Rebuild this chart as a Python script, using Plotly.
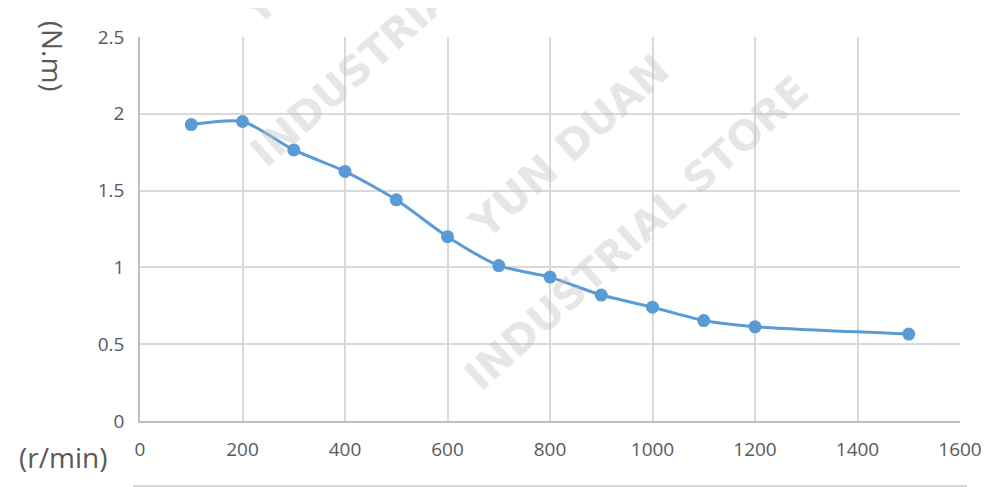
import plotly.graph_objects as go

speed = [100, 200, 300, 400, 500, 600, 700, 800, 900, 1000, 1100, 1200, 1500]
torque = [1.93, 1.95, 1.765, 1.625, 1.44, 1.20, 1.012, 0.937, 0.82, 0.741, 0.654, 0.613, 0.566]
x_ticks = [0, 200, 400, 600, 800, 1000, 1200, 1400, 1600]
y_ticks = [0, 0.5, 1, 1.5, 2, 2.5]
y_tick_text = ["0", "0.5", "1", "1.5", "2", "2.5"]

LINE = "#5b9bd5"
TXT = "#595959"
FONT = "Open Sans"

fig = go.Figure()
fig.add_trace(go.Scatter(
    x=speed, y=torque, mode="lines+markers",
    line=dict(color=LINE, width=3, shape="spline", smoothing=0.7),
    marker=dict(color=LINE, size=13),
    showlegend=False, hoverinfo="skip",
))

# watermark
wm_color = "rgba(195,195,195,0.42)"
for (dx1, dy1), (dx2, dy2) in [((0, 0), (0, 0)), ((-0.280, 0.555), (-0.262, 0.581))]:
    fig.add_annotation(xref="paper", yref="paper", x=0.524 + dx1, y=0.714 + dy1,
                       xanchor="center", yanchor="middle",
                       text="<b>YUN DUAN</b>", showarrow=False, textangle=-42,
                       font=dict(family="DejaVu Sans", size=42, color=wm_color))
    fig.add_annotation(xref="paper", yref="paper", x=0.606 + dx2, y=0.490 + dy2,
                       xanchor="center", yanchor="middle",
                       text="<b>INDUSTRIAL STORE</b>", showarrow=False, textangle=-42,
                       font=dict(family="DejaVu Sans", size=41, color=wm_color))

fig.add_annotation(xref="paper", yref="paper", x=-0.106, y=0.951,
                   xanchor="center", yanchor="middle",
                   text="(N.m)", showarrow=False, textangle=90,
                   font=dict(family=FONT, size=28, color=TXT))
fig.add_annotation(xref="paper", yref="paper", x=-0.0945, y=-0.094,
                   xanchor="center", yanchor="middle",
                   text="(r/min)", showarrow=False,
                   font=dict(family=FONT, size=28, color=TXT))

fig.add_shape(type="line", xref="paper", yref="paper",
              x0=-0.0085, x1=1.0085, y0=-0.169, y1=-0.169,
              line=dict(color="#c8c8c8", width=1.5))

fig.update_layout(
    width=992, height=479,
    margin=dict(l=132, r=40, t=29, b=66),
    paper_bgcolor="white", plot_bgcolor="white",
    font=dict(family=FONT, size=19, color=TXT),
    xaxis=dict(range=[0, 1600], tickvals=x_ticks, showgrid=True,
               gridcolor="#d9d9d9", gridwidth=1.5, zeroline=False,
               showline=True, linecolor="#bfbfbf", linewidth=1.5,
               ticks="", ticklabelstandoff=10, fixedrange=True),
    yaxis=dict(range=[0, 2.5], tickvals=y_ticks, ticktext=y_tick_text,
               showgrid=True, gridcolor="#d9d9d9", gridwidth=1.5,
               zeroline=False, showline=True, linecolor="#bfbfbf",
               linewidth=1.5, ticks="", ticklabelstandoff=10, fixedrange=True),
)

fig.write_html("out.html")
